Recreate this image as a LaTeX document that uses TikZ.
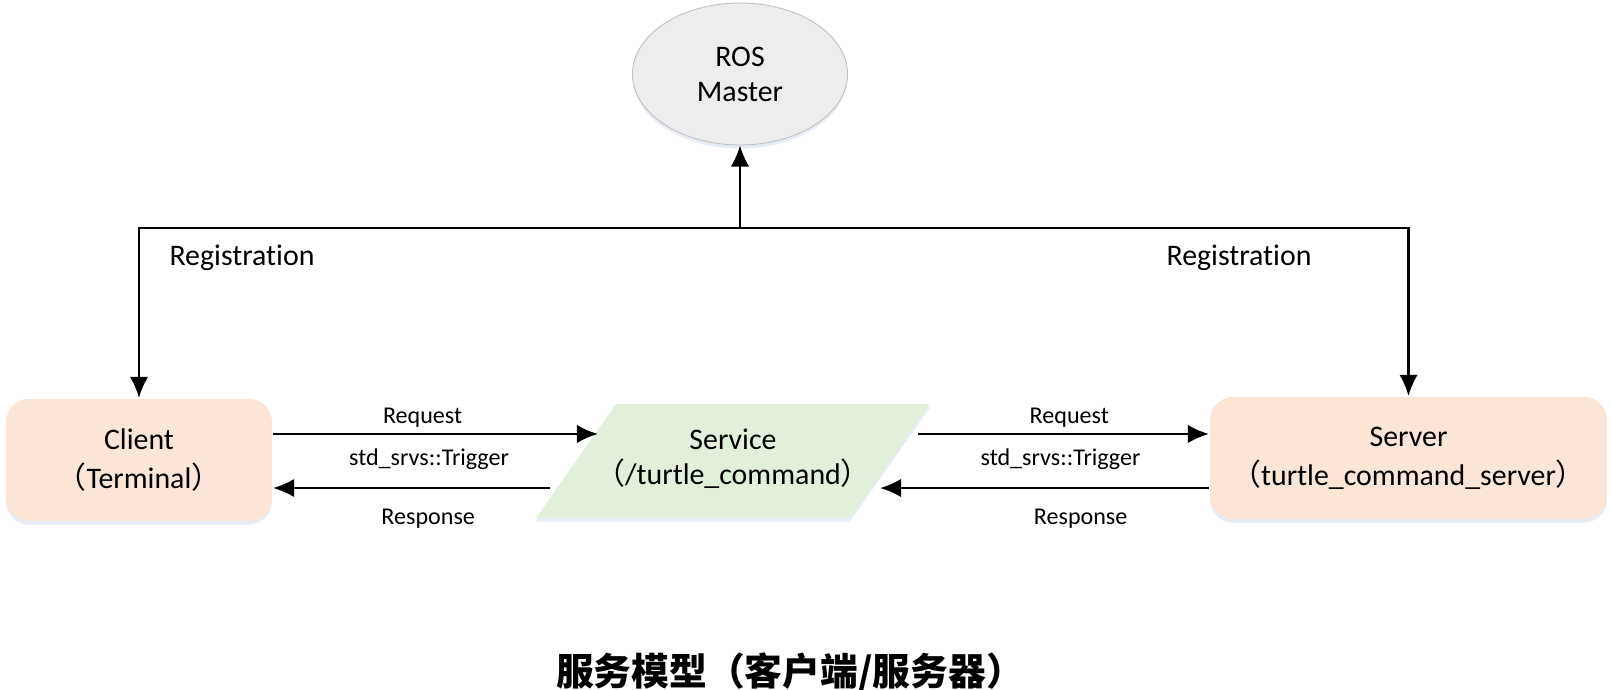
\documentclass[tikz,border=0pt]{standalone}
\usepackage{fontspec}
\setmainfont{Carlito}[Ligatures=NoCommon]
\newfontfamily\cjk{Noto Sans CJK SC}
\usetikzlibrary{arrows.meta,shapes.geometric,calc,shadows}
\definecolor{peach}{HTML}{FBE5D6}
\definecolor{sage}{HTML}{E2EFDA}
\definecolor{mist}{HTML}{EDEDED}
\definecolor{rim}{HTML}{BFBFBF}
\definecolor{glow}{HTML}{C9D8EC}
\newcommand{\flp}{{\cjk （}}
\newcommand{\frp}{{\cjk ）}}

\begin{document}
\begin{tikzpicture}[x=0.02cm,y=-0.02cm,->,>={Latex[length=12pt,width=10.5pt]},
  line width=1.3pt,
  glowy/.style={drop shadow={shadow xshift=0pt,shadow yshift=-2pt,fill=glow,opacity=0.45}},
  proc node/.style={rectangle,rounded corners=13pt,fill=peach,glowy,inner sep=0pt,
    minimum height=2.44cm,align=center,font=\fontsize{17}{22}\selectfont},
  master node/.style={ellipse,fill=mist,draw=rim,line width=0.5pt,glowy,inner sep=0pt,
    minimum width=4.3cm,minimum height=2.84cm,align=center,font=\fontsize{17}{20}\selectfont},
  serv node/.style={inner sep=0pt,align=center,font=\fontsize{17}{20}\selectfont},
  tag/.style={font=\fontsize{13.7}{16}\selectfont},
  reg/.style={font=\fontsize{17}{20}\selectfont}]

  \useasboundingbox (0,0) rectangle (1611,689);

  % corners of the service parallelogram
  \coordinate (sbl) at (536,518);
  \coordinate (sbr) at (850,518);
  \coordinate (str) at (930,404);
  \coordinate (stl) at (616,404);
  \fill[sage,glowy] (sbl) -- (sbr) -- (str) -- (stl) -- cycle;

  \node[master node] (master) at (740,74) {ROS\\Master};
  \node[proc node,minimum width=5.32cm] (client) at (139,460) {Client\\\flp Terminal\frp};
  \node[serv node] (srv) at (733,459) {Service\\\flp/turtle\_command\frp};
  \node[proc node,minimum width=7.94cm] (server) at (1408.5,458)
    {Server\\\flp turtle\_command\_server\frp};

  \node[reg] (regL) at (242,258) {Registration};
  \node[reg] (regR) at (1239,258) {Registration};

  % registration with the master
  \coordinate (bus) at (740,228);
  \draw (bus) -- (master);
  \draw (bus) -| (client);
  \draw (bus) -| (server);

  % ends of the arrows at the service
  \coordinate (reqL) at ($(sbl)!0.737!(stl)+(3,0)$);
  \coordinate (resL) at ($(sbl)!0.263!(stl)+(-7,0)$);
  \coordinate (reqR) at ($(sbr)!0.737!(str)+(9,0)$);
  \coordinate (resR) at ($(sbr)!0.263!(str)+(9,0)$);

  \draw (client.east |- reqL) -- node[tag,above,pos=0.46] {Request}
    node[tag,below=4.5pt,pos=0.48] {std\_srvs::Trigger} (reqL);
  \draw (resL) -- node[tag,below=8pt,pos=0.44] {Response} (client.east |- resL);
  \draw (reqR) -- node[tag,above,pos=0.52] {Request}
    node[tag,below=4.5pt,pos=0.49] {std\_srvs::Trigger} (server.west |- reqR);
  \draw (server.west |- resR) -- node[tag,below=8pt,pos=0.39] {Response} (resR);

  \node[font=\cjk\bfseries\fontsize{21.5}{24}\selectfont] (title) at (790,673)
    {服务模型（客户端/服务器）};
\end{tikzpicture}
\end{document}
